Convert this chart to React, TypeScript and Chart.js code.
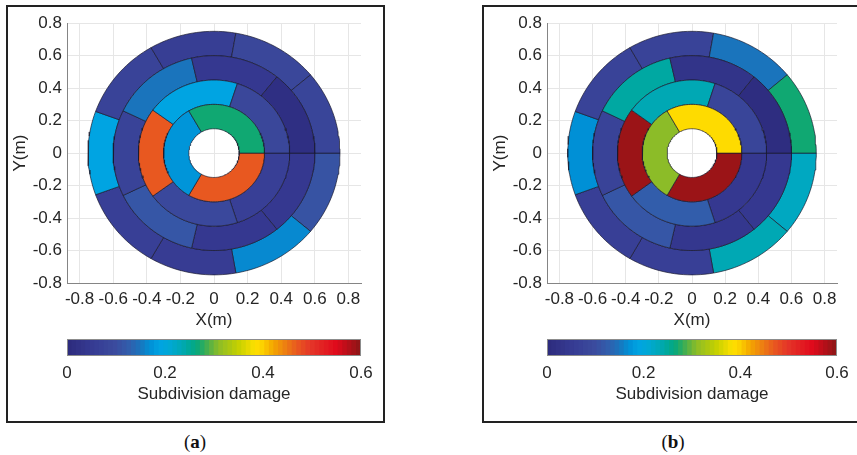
import React, { useEffect, useRef } from 'react';
import { Chart, registerables } from 'chart.js';

Chart.register(...registerables);

// ---------- data ----------
const ringRadii = [0.15, 0.3, 0.45, 0.6, 0.75];
const axisTicks = [-0.8, -0.6, -0.4, -0.2, 0, 0.2, 0.4, 0.6, 0.8];
const colorbarTicks = [0, 0.2, 0.4, 0.6];
const damageMin = 0;
const damageMax = 0.6;

// panel (a): subdivision damage per ring, sectors counter-clockwise from +X
const damageA_ring1 = [0.27, 0.175, 0.47];
const damageA_ring2 = [0.085, 0.19, 0.47, 0.09, 0.065];
const damageA_ring3 = [0.015, 0.045, 0.15, 0.075, 0.115, 0.045, 0.045];
const damageA_ring4 = [0.08, 0.085, 0.06, 0.075, 0.19, 0.065, 0.055, 0.165, 0.11];

// panel (b)
const damageB_ring1 = [0.39, 0.31, 0.59];
const damageB_ring2 = [0.08, 0.235, 0.59, 0.125, 0.045];
const damageB_ring3 = [0.01, 0.03, 0.245, 0.075, 0.115, 0.04, 0.045];
const damageB_ring4 = [0.27, 0.15, 0.075, 0.075, 0.17, 0.065, 0.065, 0.235, 0.225];

// colormap (value -> colour)
const cmapStops: [number, string][] = [
  [0.0, '#2c2a7c'],
  [0.05, '#363a92'],
  [0.1, '#3b4c9e'],
  [0.13, '#3060ae'],
  [0.15, '#1a74bc'],
  [0.17, '#0090d6'],
  [0.19, '#00a4e2'],
  [0.21, '#00a8d4'],
  [0.235, '#00a8b4'],
  [0.255, '#00a890'],
  [0.27, '#10a872'],
  [0.29, '#50b048'],
  [0.31, '#8cbc28'],
  [0.35, '#c4d000'],
  [0.385, '#ffe000'],
  [0.4, '#fcd000'],
  [0.42, '#f4a800'],
  [0.45, '#ec7814'],
  [0.47, '#e85820'],
  [0.5, '#e43428'],
  [0.55, '#e00a1c'],
  [0.6, '#8a1616'],
];

function hexToRgb(h: string) {
  return [parseInt(h.slice(1, 3), 16), parseInt(h.slice(3, 5), 16), parseInt(h.slice(5, 7), 16)];
}

function damageColor(v: number) {
  if (v <= cmapStops[0][0]) return cmapStops[0][1];
  for (let i = 1; i < cmapStops.length; i++) {
    const [v1, c1] = cmapStops[i];
    const [v0, c0] = cmapStops[i - 1];
    if (v <= v1) {
      const t = (v - v0) / (v1 - v0);
      const a = hexToRgb(c0);
      const b = hexToRgb(c1);
      const c = a.map((x, k) => Math.round(x + (b[k] - x) * t));
      return `rgb(${c[0]},${c[1]},${c[2]})`;
    }
  }
  return cmapStops[cmapStops.length - 1][1];
}

function sectorPoints(r0: number, r1: number, a0: number, a1: number) {
  const pts: { x: number; y: number }[] = [];
  const n = Math.max(8, Math.ceil((a1 - a0) / 2));
  for (let i = 0; i <= n; i++) {
    const a = ((a0 + ((a1 - a0) * i) / n) * Math.PI) / 180;
    pts.push({ x: r1 * Math.cos(a), y: r1 * Math.sin(a) });
  }
  for (let i = n; i >= 0; i--) {
    const a = ((a0 + ((a1 - a0) * i) / n) * Math.PI) / 180;
    pts.push({ x: r0 * Math.cos(a), y: r0 * Math.sin(a) });
  }
  pts.push({ ...pts[0] });
  return pts;
}

function buildSectorDatasets(rings: number[][]) {
  const ds: any[] = [];
  rings.forEach((vals, ri) => {
    const r0 = ringRadii[ri];
    const r1 = ringRadii[ri + 1];
    const step = 360 / vals.length;
    vals.forEach((v, si) => {
      ds.push({
        data: sectorPoints(r0, r1, si * step, (si + 1) * step),
        backgroundColor: damageColor(v),
        borderColor: 'rgba(25,25,45,0.85)',
        borderWidth: 0.8,
        showLine: true,
        fill: 'shape',
        pointRadius: 0,
        pointHoverRadius: 0,
        tension: 0,
      });
    });
  });
  return ds;
}

const FONT = "'Liberation Sans', Arial, Helvetica, sans-serif";
const TEXT = '#262626';

function fmt(v: number) {
  const r = Math.round(v * 10) / 10;
  return r === 0 ? '0' : String(r);
}

// ---------- components ----------
function PolarPanel({ rings, axisLeft, axisRight }: { rings: number[][]; axisLeft: number; axisRight: number }) {
  const ref = useRef<HTMLCanvasElement>(null);
  const yAxisW = 58;
  const xAxisH = 48;
  const padTop = 10;
  const padRight = 20;
  const top = 8;
  const width = axisRight - axisLeft + yAxisW + padRight;
  const height = 283 - top + xAxisH;
  useEffect(() => {
    const chart = new Chart(ref.current!, {
      type: 'scatter',
      data: { datasets: buildSectorDatasets(rings) },
      options: {
        animation: false,
        responsive: false,
        events: [],
        layout: { padding: { left: 0, top: padTop, right: padRight, bottom: 0 } },
        plugins: { legend: { display: false }, tooltip: { enabled: false } },
        scales: {
          x: {
            type: 'linear',
            min: -0.875,
            max: 0.875,
            afterBuildTicks: (s: any) => {
              s.ticks = axisTicks.map((v) => ({ value: v }));
            },
            afterFit: (s: any) => {
              s.height = xAxisH;
            },
            ticks: { callback: (v: any) => fmt(Number(v)), padding: 6, maxRotation: 0, autoSkip: false, color: TEXT, font: { family: FONT, size: 17 } },
            grid: { color: '#e6e6e6', lineWidth: 1, drawTicks: false },
            border: { display: true, color: '#858585', width: 1 },
            title: { display: true, text: 'X(m)', color: TEXT, font: { family: FONT, size: 17, lineHeight: 1.2 }, padding: 0 },
          },
          y: {
            type: 'linear',
            min: -0.8,
            max: 0.8,
            afterBuildTicks: (s: any) => {
              s.ticks = axisTicks.map((v) => ({ value: v }));
            },
            afterFit: (s: any) => {
              s.width = yAxisW;
            },
            ticks: { callback: (v: any) => fmt(Number(v)), padding: 5, autoSkip: false, color: TEXT, font: { family: FONT, size: 17 } },
            grid: { color: '#e6e6e6', lineWidth: 1, drawTicks: false },
            border: { display: true, color: '#858585', width: 1 },
            title: { display: true, text: 'Y(m)', color: TEXT, font: { family: FONT, size: 17, lineHeight: 1.2 }, padding: { top: 1, bottom: 0 } },
          },
        },
      } as any,
    });
    return () => chart.destroy();
  }, []);
  return (
    <canvas
      ref={ref}
      width={width}
      height={height}
      style={{ position: 'absolute', left: axisLeft - yAxisW, top, width, height }}
    />
  );
}

const colorbarBorder = {
  id: 'colorbarBorder',
  afterDatasetsDraw(chart: any) {
    const { ctx, chartArea } = chart;
    ctx.save();
    ctx.strokeStyle = '#8c8c8c';
    ctx.lineWidth = 1;
    ctx.strokeRect(chartArea.left + 0.5, chartArea.top + 0.5, chartArea.right - chartArea.left - 1, chartArea.bottom - chartArea.top - 1);
    ctx.restore();
  },
};

function Colorbar({ axisLeft, axisRight }: { axisLeft: number; axisRight: number }) {
  const ref = useRef<HTMLCanvasElement>(null);
  const pad = 20;
  const padTop = 4;
  const barTop = 339;
  const barH = 17;
  const axisH = 49;
  const width = axisRight - axisLeft + pad * 2;
  const height = padTop + barH + axisH;
  useEffect(() => {
    const nBands = 64;
    const bw = (damageMax - damageMin) / nBands;
    const datasets = [] as any[];
    for (let i = 0; i < nBands; i++) {
      const lo = damageMin + i * bw;
      const hi = i === nBands - 1 ? damageMax : lo + bw * 1.15;
      datasets.push({
        data: [[lo, hi]],
        backgroundColor: damageColor(lo + bw / 2),
        borderWidth: 0,
        grouped: false,
        categoryPercentage: 1,
        barPercentage: 1,
      });
    }
    datasets.reverse();
    const chart = new Chart(ref.current!, {
      type: 'bar',
      data: { labels: ['damage'], datasets },
      options: {
        animation: false,
        responsive: false,
        events: [],
        indexAxis: 'y',
        layout: { padding: { left: pad, right: pad, top: padTop, bottom: 0 } },
        plugins: { legend: { display: false }, tooltip: { enabled: false } },
        scales: {
          y: { display: false },
          x: {
            type: 'linear',
            min: damageMin,
            max: damageMax,
            afterBuildTicks: (s: any) => {
              s.ticks = colorbarTicks.map((v) => ({ value: v }));
            },
            afterFit: (s: any) => {
              s.height = axisH;
            },
            ticks: { callback: (v: any) => fmt(Number(v)), padding: 7, maxRotation: 0, autoSkip: false, color: TEXT, font: { family: FONT, size: 17 } },
            grid: { display: false, drawTicks: false },
            border: { display: false },
            title: { display: true, text: 'Subdivision damage', color: TEXT, font: { family: FONT, size: 17, lineHeight: 1.2 }, padding: 0 },
          },
        },
      } as any,
      plugins: [colorbarBorder],
    });
    return () => chart.destroy();
  }, []);
  return (
    <canvas
      ref={ref}
      width={width}
      height={height}
      style={{ position: 'absolute', left: axisLeft - pad, top: barTop - padTop, width, height }}
    />
  );
}

function PanelLabel({ letter, center }: { letter: string; center: number }) {
  return (
    <div
      style={{
        position: 'absolute',
        left: center - 40,
        width: 80,
        top: 431,
        textAlign: 'center',
        fontFamily: "'Liberation Serif', 'DejaVu Serif', serif",
        fontSize: 19,
        lineHeight: '22px',
        color: '#111',
      }}
    >
      (<b>{letter}</b>)
    </div>
  );
}

export default function App() {
  const ringsA = [damageA_ring1, damageA_ring2, damageA_ring3, damageA_ring4];
  const ringsB = [damageB_ring1, damageB_ring2, damageB_ring3, damageB_ring4];
  return (
    <div style={{ position: 'absolute', left: 0, top: 0, width: 857, height: 455, background: '#fff', overflow: 'hidden' }}>
      <div style={{ position: 'absolute', left: 6, top: 5, width: 379, height: 418, border: '2px solid #222', boxSizing: 'border-box' }} />
      <div style={{ position: 'absolute', left: 482, top: 5, width: 390, height: 418, border: '2px solid #222', boxSizing: 'border-box' }} />
      <PolarPanel rings={ringsA} axisLeft={67} axisRight={361} />
      <Colorbar axisLeft={67} axisRight={361} />
      <PolarPanel rings={ringsB} axisLeft={547} axisRight={837} />
      <Colorbar axisLeft={547} axisRight={837} />
      <PanelLabel letter="a" center={195} />
      <PanelLabel letter="b" center={673} />
    </div>
  );
}
